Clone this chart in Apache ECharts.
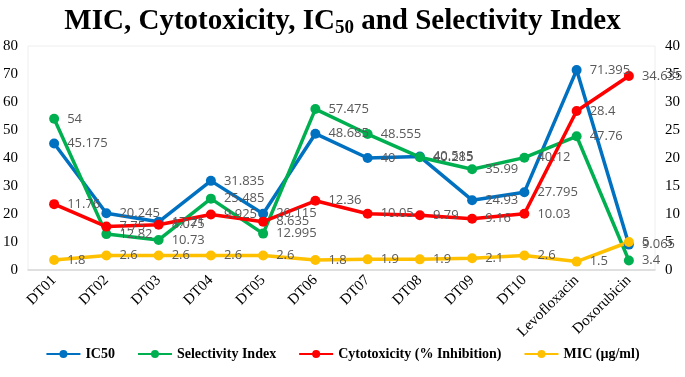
<!DOCTYPE html>
<html>
<head>
<meta charset="utf-8">
<script src="https://cdn.jsdelivr.net/npm/echarts@6/dist/echarts.min.js"></script>
<style>
html,body{margin:0;padding:0;background:#fff;}
#main{width:685px;height:377px;}
</style>
</head>
<body>
<div id="main"></div>
<script>
var categories = ['DT01', 'DT02', 'DT03', 'DT04', 'DT05', 'DT06', 'DT07', 'DT08', 'DT09', 'DT10', 'Levofloxacin', 'Doxorubicin'];
var ic50 = [45.175, 20.245, 17.21, 31.835, 20.115, 48.685, 40, 40.515, 24.93, 27.795, 71.395, 9.065];
var selectivity = [54, 12.82, 10.73, 25.485, 12.995, 57.475, 48.555, 40.285, 35.99, 40.12, 47.76, 3.4];
var cytotoxicity = [11.76, 7.75, 8.075, 9.925, 8.635, 12.36, 10.05, 9.79, 9.16, 10.03, 28.4, 34.635];
var mic = [1.8, 2.6, 2.6, 2.6, 2.6, 1.8, 1.9, 1.9, 2.1, 2.6, 1.5, 5];

var myChart = echarts.init(document.getElementById('main'));

var serif = '"Liberation Serif", "Times New Roman", serif';
var labelFont = '"Open Sans", "Liberation Sans", sans-serif';

function mkSeries(name, data, color, axisIdx) {
    return {
        name: name,
        type: 'line',
        yAxisIndex: axisIdx,
        data: data,
        symbol: 'circle',
        symbolSize: 10,
        lineStyle: { width: 3.5, color: color },
        itemStyle: { color: color },
        label: {
            show: true,
            position: 'right',
            distance: 8,
            color: '#595959',
            fontFamily: labelFont,
            fontSize: 13
        },
        animation: false
    };
}

option = {
    title: {
        text: 'MIC, Cytotoxicity, IC{sub|50} and Selectivity Index',
        left: 'center',
        top: 0,
        textStyle: {
            fontFamily: serif,
            fontWeight: 'bold',
            fontSize: 29,
            color: '#000',
            rich: {
                sub: { fontFamily: serif, fontWeight: 'bold', fontSize: 19, color: '#000', padding: [14, 0, 0, 0] }
            }
        }
    },
    legend: {
        bottom: 11,
        itemWidth: 34,
        itemHeight: 10,
        itemGap: 22,
        textStyle: { fontFamily: serif, fontWeight: 'bold', fontSize: 14, color: '#000' },
        data: ['IC50', 'Selectivity Index', 'Cytotoxicity (% Inhibition)', 'MIC (\u00b5g/ml)']
    },
    grid: { left: 27, right: 30, top: 46, bottom: 107, show: true, borderColor: '#eeeeee', borderWidth: 1 },
    xAxis: {
        type: 'category',
        data: categories,
        boundaryGap: true,
        axisTick: { show: false },
        axisLine: { lineStyle: { color: '#d9d9d9', width: 1.5 } },
        axisLabel: { rotate: 45, interval: 0, fontFamily: serif, fontSize: 15, color: '#000', margin: 8 }
    },
    yAxis: [{
        type: 'value',
        min: 0, max: 80, interval: 10,
        splitLine: { show: false },
        axisLine: { show: false },
        axisLabel: { fontFamily: serif, fontSize: 15, color: '#000', margin: 10 }
    }, {
        type: 'value',
        min: 0, max: 40, interval: 5,
        splitLine: { show: false },
        axisLine: { show: false },
        axisLabel: { fontFamily: serif, fontSize: 15, color: '#000', margin: 10 }
    }],
    series: [
        mkSeries('IC50', ic50, '#0070C0', 0),
        mkSeries('Selectivity Index', selectivity, '#00B050', 0),
        mkSeries('Cytotoxicity (% Inhibition)', cytotoxicity, '#FF0000', 1),
        mkSeries('MIC (\u00b5g/ml)', mic, '#FFC000', 1)
    ]
};
myChart.setOption(option);
</script>
</body>
</html>
